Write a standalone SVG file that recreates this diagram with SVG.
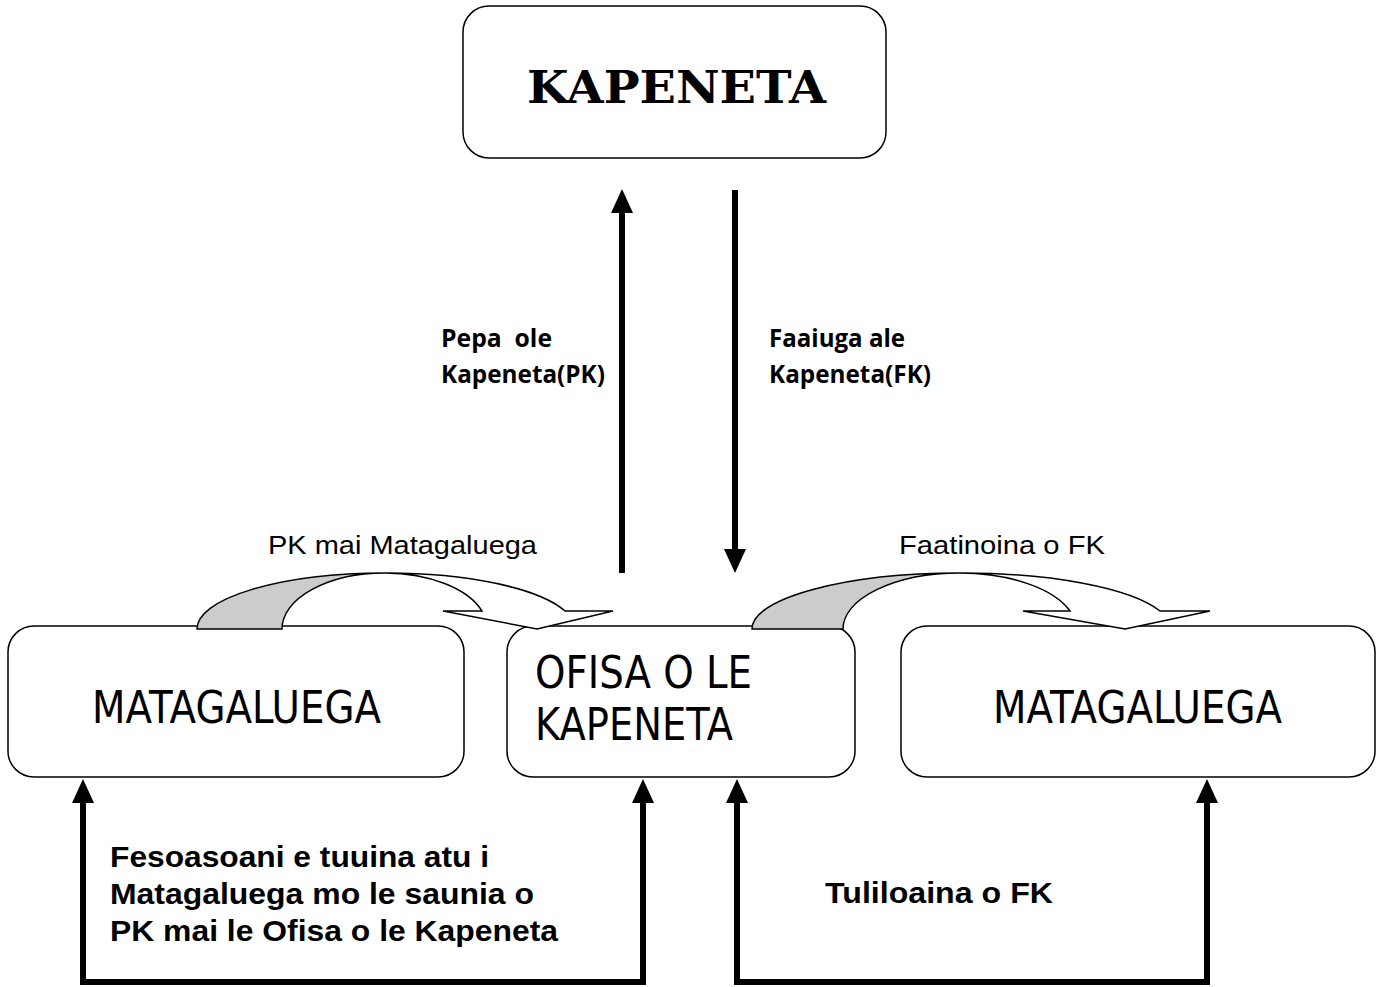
<svg xmlns="http://www.w3.org/2000/svg" width="1384" height="987" viewBox="0 0 1384 987">
<style>
.box{fill:#fff;stroke:#000;stroke-width:1.5}
.node{font-family:"DejaVu Sans","Liberation Sans",sans-serif;font-size:45px;fill:#000}
.lbl{font-family:"Open Sans","Liberation Sans",sans-serif;font-weight:bold;font-size:25px;fill:#000;white-space:pre}
.blbl{font-family:"Liberation Sans",Arial,sans-serif;font-weight:bold;font-size:30px;fill:#000}
.rlbl{font-family:"Liberation Sans",Arial,sans-serif;font-size:26px;fill:#000}
.thick{stroke:#000;stroke-width:6;fill:none}
.ah{fill:#000}
.cg{fill:#cccccc;stroke:#000;stroke-width:1.5}
.cw{fill:#fff;stroke:#000;stroke-width:1.5}
</style>

<g id="connectors">
  <line class="thick" x1="622" y1="573" x2="622" y2="208"/>
  <polygon class="ah" points="622,189 611,213 633,213"/>
  <line class="thick" x1="735" y1="190" x2="735" y2="555"/>
  <polygon class="ah" points="735,573 724,549 746,549"/>
  <polyline class="thick" points="83,800 83,982 643,982 643,800"/>
  <polygon class="ah" points="83,779 72,803 94,803"/>
  <polygon class="ah" points="643,779 632,803 654,803"/>
  <polyline class="thick" points="737,800 737,982 1207,982 1207,800"/>
  <polygon class="ah" points="737,779 726,803 748,803"/>
  <polygon class="ah" points="1207,779 1196,803 1218,803"/>
</g>

<g id="node-kapeneta">
  <rect class="box" x="463" y="6" width="423" height="152" rx="26"/>
  <text x="527" y="103" font-family="DejaVu Serif,Liberation Serif,serif" font-weight="bold" font-size="45" textLength="299" lengthAdjust="spacingAndGlyphs">KAPENETA</text>
</g>

<g id="node-matagaluega-left">
  <rect class="box" x="8" y="626" width="456" height="151" rx="26"/>
  <text class="node" x="92" y="723" textLength="289" lengthAdjust="spacingAndGlyphs">MATAGALUEGA</text>
</g>

<g id="node-ofisa">
  <rect class="box" x="507" y="626" width="348" height="151" rx="26"/>
  <text class="node" x="535" y="688" textLength="217" lengthAdjust="spacingAndGlyphs">OFISA O LE</text>
  <text class="node" x="535" y="740" textLength="198" lengthAdjust="spacingAndGlyphs">KAPENETA</text>
</g>

<g id="node-matagaluega-right">
  <rect class="box" x="901" y="626" width="474" height="151" rx="26"/>
  <text class="node" x="993" y="723" textLength="289" lengthAdjust="spacingAndGlyphs">MATAGALUEGA</text>
</g>

<g id="curved-arrow-left">
  <path class="cg" d="M197,629 A188,56 0 0 1 385,573 A103,56 0 0 0 282,629 Z"/>
  <path class="cw" d="M385,573 A188,56 0 0 1 565,611 L613,611 L537,629 L443,611 L482,611 A103,56 0 0 0 385,573 Z"/>
</g>

<g id="curved-arrow-right">
  <path class="cg" d="M752,629 A208,56 0 0 1 960,573 A117,56 0 0 0 843,629 Z"/>
  <path class="cw" d="M960,573 A208,56 0 0 1 1160,611 L1210,611 L1125,629 L1023,611 L1070,611 A117,56 0 0 0 960,573 Z"/>
</g>

<g id="labels">
  <text class="lbl" x="441" y="347" xml:space="preserve" textLength="111" lengthAdjust="spacingAndGlyphs">Pepa  ole</text>
  <text class="lbl" x="441" y="383" textLength="164" lengthAdjust="spacingAndGlyphs">Kapeneta(PK)</text>
  <text class="lbl" x="769" y="347" textLength="136" lengthAdjust="spacingAndGlyphs">Faaiuga ale</text>
  <text class="lbl" x="769" y="383" textLength="162" lengthAdjust="spacingAndGlyphs">Kapeneta(FK)</text>
  <text class="rlbl" x="268" y="554" textLength="269" lengthAdjust="spacingAndGlyphs">PK mai Matagaluega</text>
  <text class="rlbl" x="899" y="554" textLength="206" lengthAdjust="spacingAndGlyphs">Faatinoina o FK</text>
  <text class="blbl" x="110" y="867" textLength="379" lengthAdjust="spacingAndGlyphs">Fesoasoani e tuuina atu i</text>
  <text class="blbl" x="110" y="904" textLength="424" lengthAdjust="spacingAndGlyphs">Matagaluega mo le saunia o</text>
  <text class="blbl" x="110" y="941" textLength="448" lengthAdjust="spacingAndGlyphs">PK mai le Ofisa o le Kapeneta</text>
  <text class="blbl" x="825" y="903" textLength="228" lengthAdjust="spacingAndGlyphs">Tuliloaina o FK</text>
</g>
</svg>
